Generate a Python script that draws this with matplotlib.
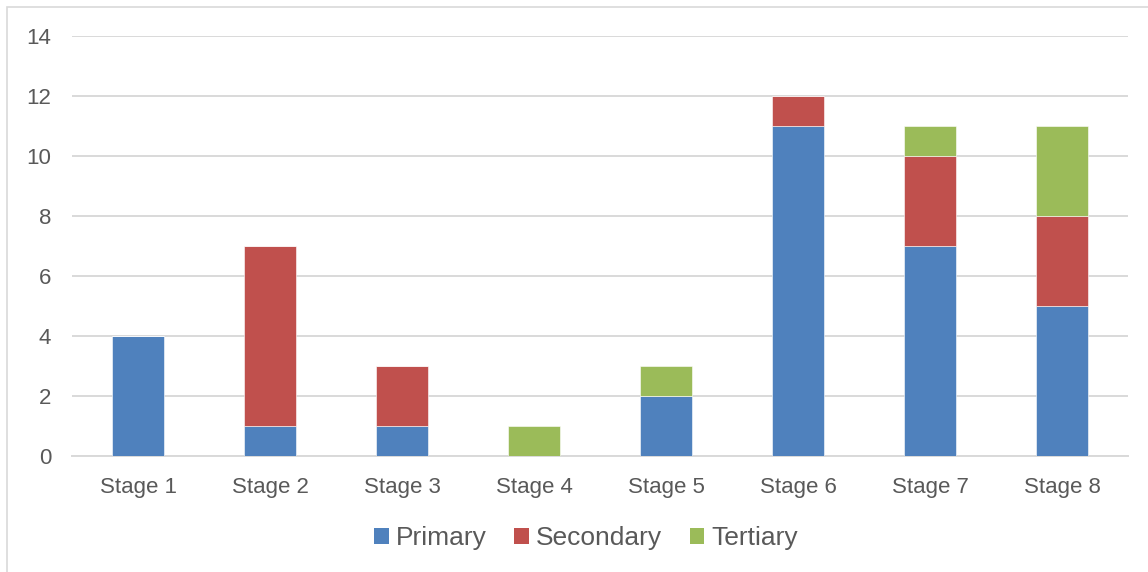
import matplotlib
matplotlib.use("Agg")
import matplotlib.pyplot as plt
from matplotlib.patches import Rectangle, Patch
import numpy as np

plt.rcParams['font.family'] = ['Liberation Sans', 'DejaVu Sans']

stages = ["Stage 1", "Stage 2", "Stage 3", "Stage 4",
          "Stage 5", "Stage 6", "Stage 7", "Stage 8"]
primary = [4, 1, 1, 0, 2, 11, 7, 5]
secondary = [0, 6, 2, 0, 0, 1, 3, 3]
tertiary = [0, 0, 0, 1, 1, 0, 1, 3]
series_names = ["Primary", "Secondary", "Tertiary"]
colors = ["#4F81BD", "#C0504D", "#9BBB59"]
text_color = "#595959"
grid_color = "#D9D9D9"

W, H = 1148, 572
fig = plt.figure(figsize=(W / 100, H / 100), dpi=100)
fig.patch.set_facecolor("white")

# chart-area border
fig.patches.append(Rectangle((7 / W, -0.05), 1.2, 1 - 7 / H + 0.05,
                             transform=fig.transFigure, fill=False,
                             edgecolor=grid_color, linewidth=1.2, zorder=0))

ax = fig.add_axes([72 / W, 1 - 456 / H, (1128 - 72) / W, (456 - 36) / H])
x = np.arange(len(stages))
width = 0.40
bottom = np.zeros(len(stages))
for vals, name, c in zip([primary, secondary, tertiary], series_names, colors):
    v = np.array(vals, dtype=float)
    ax.bar(x, v, width, bottom=bottom, color=c, edgecolor="white",
           linewidth=0.4, label=name, zorder=3)
    bottom += v

ax.set_xlim(-0.5, len(stages) - 0.5)
ax.set_ylim(0, 14)
ax.set_yticks(np.arange(0, 15, 2))
ax.set_xticks(x)
ax.set_xticklabels(stages)
ax.yaxis.grid(True, color=grid_color, linewidth=1.4, zorder=0)
ax.set_axisbelow(True)
for s in ["top", "right", "left"]:
    ax.spines[s].set_visible(False)
ax.spines["bottom"].set_color(grid_color)
ax.spines["bottom"].set_linewidth(1.4)
ax.tick_params(axis="both", length=0, labelsize=16, colors=text_color)
ax.tick_params(axis="y", pad=15)
ax.tick_params(axis="x", pad=15)

handles = [Patch(facecolor=c, edgecolor="none") for c in colors]
fig.legend(handles, series_names, loc="center",
           bbox_to_anchor=(586 / W, 1 - 538 / H), ncol=3, frameon=False,
           fontsize=19, labelcolor=text_color, handlelength=0.56,
           handleheight=0.56, handletextpad=0.25, columnspacing=1.05,
           borderpad=0)

fig.savefig("out.png", dpi=100)
